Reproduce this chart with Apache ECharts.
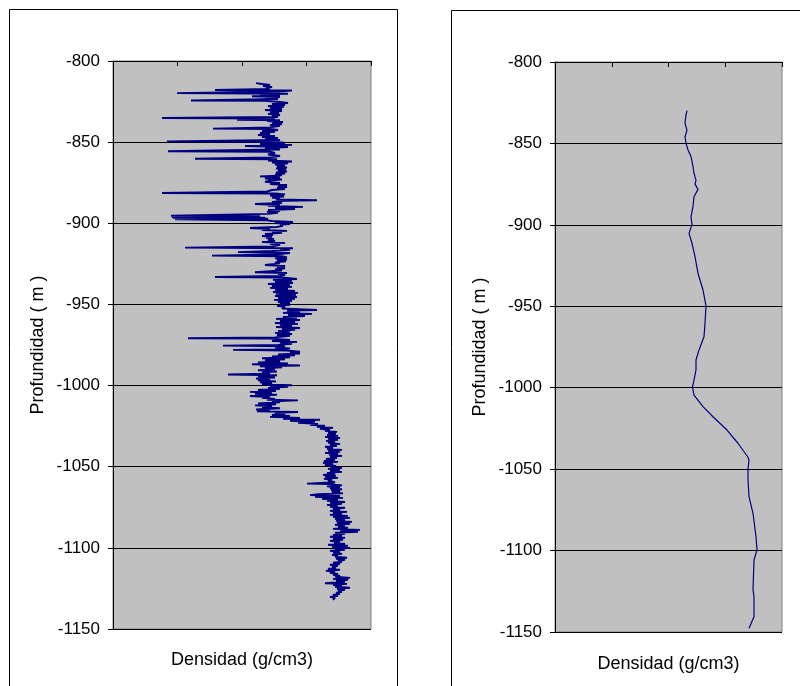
<!DOCTYPE html>
<html><head><meta charset="utf-8">
<script src="https://cdn.jsdelivr.net/npm/echarts@6/dist/echarts.min.js"></script>
<style>html,body{margin:0;padding:0;background:#fff}#c{width:800px;height:686px}</style>
</head><body><div id="c"></div>
<script>
// Depth axis (m)
const depthMin = -1150, depthMax = -800, depthStep = 50;
const depthTickLabels = ['-800','-850','-900','-950','-1000','-1050','-1100','-1150'];
const xTitle = 'Densidad (g/cm3)';
const yTitle = 'Profundidad ( m )';

// Left log: [density, depth]
const leftLogUpper = [
[2.56,-813.6],[2.62,-814.2],[2.70,-814.8],[2.63,-815.4],[2.72,-816.0],[2.66,-816.6],[2.70,-817.2],[2.15,-817.9],[2.92,-818.2],[2.78,-818.8],[1.77,-819.8],[2.88,-820.2],[2.60,-820.6],[2.80,-821.3],[2.52,-821.7],[2.80,-822.2],[2.65,-822.8],[2.78,-823.4],[1.91,-824.3],[2.65,-824.6],
[2.80,-825.3],[2.88,-825.9],[2.72,-826.5],[2.85,-827.1],[2.68,-827.7],[2.84,-828.3],[2.70,-829.0],[2.82,-829.6],[2.65,-830.2],[2.82,-830.8],[2.70,-831.4],[2.79,-832.0],[2.68,-832.6],[2.80,-833.3],[2.72,-833.9],[2.78,-834.5],[1.62,-835.1],[2.75,-835.4],[2.37,-836.2],[2.80,-836.5],[2.67,-837.0],[2.83,-837.6],[2.72,-838.2],[2.82,-838.8],[2.70,-839.4],[2.80,-840.0],[2.70,-840.9],[2.13,-841.7],[2.72,-842.0],[2.78,-842.5],[2.62,-843.1],[2.75,-843.7],[2.60,-844.4],[2.70,-845.0],[2.58,-845.6],[2.75,-846.2],[2.62,-846.8],[2.78,-847.4],[2.65,-848.0],[2.80,-848.7],
[1.67,-849.5],[2.75,-849.8],[2.85,-850.5],[2.60,-851.1],[2.92,-851.7],[2.45,-852.4],[2.88,-853.0],[2.65,-853.6],[2.80,-854.5],[1.68,-855.6],[2.70,-855.9],[2.75,-856.7],[2.68,-857.6],[2.80,-858.5],[2.70,-859.4],[1.95,-860.2],[2.77,-860.5],[2.68,-861.3],[2.92,-861.9],[2.72,-862.5],[2.88,-863.1],[2.75,-863.8],[2.85,-864.4],[2.77,-865.0],[2.87,-865.6],[2.76,-866.2],[2.86,-866.8],[2.78,-867.5],[2.87,-868.1],[2.76,-868.7],[2.85,-869.3],[2.75,-869.9],[2.82,-870.5],[2.60,-871.1],[2.80,-871.8],[2.65,-872.4],[2.82,-873.0],[2.70,-873.6],[2.65,-874.5],[2.80,-875.2],[2.70,-875.8],[2.87,-876.4],[2.78,-877.0],[2.87,-877.6],[2.77,-878.2],[2.85,-878.9],[2.72,-879.5],[2.67,-880.4],[1.62,-881.3],[2.75,-881.6],[2.85,-882.2],[2.70,-882.9],[2.84,-883.5],[2.72,-884.1],[2.80,-884.7],[2.76,-885.3],[3.17,-885.8],[2.85,-886.2],[2.72,-886.9],[2.82,-887.5],[2.55,-888.1],[2.80,-888.7],[2.68,-889.3],[3.03,-889.9],[2.75,-890.6],[2.95,-891.2],[2.68,-891.8],[2.80,-892.4],[2.67,-893.0],[2.78,-893.6],[2.68,-894.2],[2.70,-895.0],[1.71,-895.4],[2.60,-895.7],[1.72,-896.1],[2.65,-896.5],[1.73,-896.8],[2.68,-897.2],[1.75,-897.6],[2.67,-898.1],[2.72,-898.6]
];
const leftLogMiddle = [
[2.93,-899.2],[2.75,-899.8],[2.90,-900.4],[2.80,-901.0],[2.83,-901.6],[2.77,-902.3],[2.50,-902.9],[2.70,-903.5],[2.62,-904.1],[2.87,-904.7],[2.72,-905.3],[2.82,-905.9],[2.65,-906.6],[2.73,-907.2],[2.62,-907.8],[2.72,-908.4],[2.66,-909.0],[2.74,-909.6],[2.68,-910.3],[2.75,-910.9],[2.62,-911.5],[2.85,-912.1],[2.70,-912.7],[2.80,-913.3],[2.72,-914.3],[1.85,-915.0],[2.93,-915.4],[2.80,-915.9],[2.90,-916.4],[2.72,-917.0],[2.38,-917.8],[2.90,-918.3],[2.75,-919.2],[2.12,-919.9],[2.82,-920.3],[2.87,-921.0],[2.75,-921.6],[2.87,-922.3],[2.77,-922.9],[2.86,-923.5],[2.75,-924.1],[2.80,-924.7],[2.65,-925.7],[2.85,-926.3],[2.77,-926.9],[2.85,-927.7],[2.75,-928.5],[2.82,-929.1],[2.55,-930.2],[2.87,-930.6],[2.78,-931.2],[2.85,-931.8],[2.80,-932.4],[2.15,-933.1],[2.82,-933.4],[2.97,-934.3],[2.73,-934.9],[2.92,-935.5],[2.75,-936.1],[2.93,-936.8],[2.68,-937.4],[2.90,-938.0],[2.72,-938.6],[2.92,-939.2],[2.70,-939.8],[2.88,-940.4],[2.75,-941.1],[2.95,-941.7],[2.73,-942.3],[2.98,-942.9],[2.76,-943.5],[2.96,-944.1],[2.75,-944.8],[2.97,-945.4],[2.78,-946.0],[2.95,-946.6],[2.74,-947.2],[2.92,-947.8],[2.78,-948.5],[2.90,-949.1],[2.80,-949.7],[2.90,-950.3],[2.77,-950.9],[2.85,-951.5],[2.82,-952.5],[3.17,-953.4],[2.87,-953.8],[3.00,-954.6],[2.83,-955.2],[3.12,-955.8],[2.88,-956.5],[3.05,-957.1],[2.83,-957.7],[2.97,-958.3],[2.76,-958.9],[3.00,-959.6],[2.80,-960.2],[2.95,-960.8],[2.75,-961.4],[2.98,-962.0],[2.80,-962.6],[2.92,-963.2],[2.76,-963.9],[3.00,-964.5],[2.82,-965.1],[2.95,-965.7],[2.78,-966.3],[2.90,-966.9],[2.75,-967.5],[2.92,-968.2],[2.77,-968.8],[2.90,-969.4],[2.75,-970.3],[1.88,-970.8],[2.70,-971.1],[2.90,-971.9],[2.72,-972.5],[2.97,-973.1],[2.80,-973.7],[2.92,-974.3],[2.78,-974.9],[2.23,-975.4],[2.85,-975.8],[2.75,-976.5],[2.90,-977.1],[2.80,-977.8],[2.33,-978.0],[2.87,-978.4],[3.00,-979.1],
[2.90,-979.6],[3.00,-980.2],[2.78,-980.8],[2.95,-981.4],[2.72,-982.0],[2.90,-982.6],[2.62,-983.2],[2.85,-983.8],[2.65,-984.5],[2.80,-985.1],[2.58,-985.7],[2.88,-986.3],[2.52,-986.9],[3.00,-987.6],[2.60,-988.2],[2.82,-988.8],[2.65,-989.4],[2.75,-990.0],[2.58,-990.6],[2.77,-991.3],[2.62,-991.9],[2.70,-992.7],[2.28,-993.2],[2.77,-993.6],[2.58,-994.3],[2.75,-995.0],[2.56,-995.6],[2.70,-996.2],[2.58,-996.8],[2.76,-997.4],[2.60,-998.0],[2.72,-998.7],[2.62,-999.3],[2.92,-999.8],[2.70,-1000.2],[2.88,-1000.8],[2.68,-1001.4],[2.80,-1002.0],[2.58,-1002.7],[2.76,-1003.3],[2.50,-1003.9],[2.72,-1004.5],[2.55,-1005.1],[2.77,-1005.7],[2.50,-1006.4],[2.70,-1007.0],[2.62,-1007.6],[2.75,-1008.2],[2.67,-1008.7],[2.98,-1009.1],[2.72,-1009.7],[2.80,-1010.3],[2.58,-1011.0],[2.76,-1011.6],[2.55,-1012.2],[2.72,-1012.8],[2.62,-1013.4],[2.80,-1014.0],[2.56,-1014.7],[2.70,-1015.3],[2.57,-1015.9],[2.98,-1016.3],[2.75,-1016.8],[2.85,-1017.4],[2.72,-1018.1],[2.90,-1018.7],[2.70,-1019.3],[3.00,-1019.9],[2.83,-1020.5],[3.20,-1021.1],[2.90,-1021.7],[3.15,-1022.3],[2.98,-1023.0],[3.18,-1023.6],[3.10,-1024.2],[3.25,-1024.8],[3.17,-1025.4],[3.33,-1026.0],[3.20,-1026.7],[3.30,-1027.3],[3.25,-1027.9],[3.37,-1028.5],[3.28,-1029.1],[3.36,-1029.7],[3.27,-1030.4],[3.38,-1031.0],[3.25,-1031.6],[3.40,-1032.2],[3.28,-1032.8],[3.38,-1033.4],[3.26,-1034.1],[3.35,-1034.7],[3.28,-1035.3],[3.40,-1035.9],[3.30,-1036.5],[3.37,-1037.1],[3.25,-1037.7],[3.33,-1038.4],[3.27,-1039.0],[3.42,-1039.6],[3.28,-1040.2],[3.40,-1040.8],[3.25,-1041.5],[3.38,-1042.1],[3.29,-1042.7],[3.42,-1043.3],[3.30,-1043.9],[3.37,-1044.5],[3.26,-1045.2],[3.35,-1045.8],[3.24,-1046.4],[3.38,-1047.0],[3.23,-1047.6],[3.33,-1048.2],[3.25,-1048.9],[3.36,-1049.5],[3.30,-1050.1],[3.42,-1050.7],[3.28,-1051.3],[3.40,-1051.9],[3.30,-1052.6],[3.42,-1053.2],[3.27,-1053.8],[3.35,-1054.4],[3.23,-1055.0],[3.36,-1055.6],[3.25,-1056.2],[3.38,-1056.9],[3.24,-1057.5],[3.32,-1058.1],[3.28,-1058.7],[3.35,-1059.6],[3.07,-1060.4],[3.30,-1060.7],[3.42,-1061.5],[3.27,-1062.1],[3.40,-1062.7],[3.30,-1063.3],[3.42,-1063.9]
];
const leftLogLower = [
[3.31,-1064.6],[3.40,-1065.2],[3.32,-1065.8],[3.43,-1066.4],[3.18,-1067.0],[3.10,-1067.5],[3.40,-1068.0],[3.15,-1068.6],[3.43,-1069.2],[3.22,-1069.8],[3.38,-1070.4],[3.27,-1071.0],[3.45,-1071.7],[3.30,-1072.3],[3.42,-1072.9],[3.27,-1073.5],[3.38,-1074.1],[3.30,-1074.7],[3.45,-1075.3],[3.33,-1076.0],[3.40,-1076.6],[3.30,-1077.2],[3.47,-1077.8],[3.33,-1078.4],[3.42,-1079.0],[3.30,-1079.7],[3.48,-1080.3],[3.33,-1080.9],[3.50,-1081.5],[3.35,-1082.1],[3.45,-1082.7],[3.36,-1083.3],[3.52,-1084.0],[3.37,-1084.6],[3.50,-1085.2],[3.35,-1085.8],[3.45,-1086.4],[3.38,-1087.0],[3.48,-1087.6],[3.33,-1088.3],[3.60,-1088.9],[3.40,-1089.5],[3.58,-1090.1],[3.35,-1090.7],[3.45,-1091.3],[3.33,-1092.0],[3.42,-1092.6],[3.30,-1093.2],[3.45,-1093.8],[3.33,-1094.4],[3.43,-1095.0],[3.30,-1095.7],[3.40,-1096.3],[3.34,-1096.9],[3.45,-1097.5],[3.28,-1098.1],[3.48,-1098.7],[3.32,-1099.3],[3.50,-1100.0],[3.35,-1100.6],[3.45,-1101.2],[3.30,-1101.8],[3.40,-1102.4],[3.33,-1103.0],[3.42,-1103.7],[3.32,-1104.3],[3.38,-1104.9],[3.35,-1105.5],[3.47,-1106.1],[3.36,-1106.7],[3.45,-1107.4],[3.38,-1108.0],[3.42,-1108.6],[3.33,-1109.2],[3.40,-1109.8],[3.30,-1110.4],[3.38,-1111.1],[3.32,-1111.7],[3.36,-1112.3],[3.28,-1112.9],[3.40,-1113.5],[3.26,-1114.1],[3.35,-1114.8],[3.30,-1115.4],[3.38,-1116.0],[3.33,-1116.6],[3.40,-1117.2],[3.35,-1117.8],[3.50,-1118.5],[3.33,-1119.1],[3.48,-1119.7],[3.36,-1120.3],[3.45,-1120.9],[3.25,-1121.8],[3.47,-1122.2],[3.33,-1122.8],[3.42,-1123.4],[3.35,-1124.0],[3.50,-1124.6],[3.37,-1125.2],[3.45,-1125.9],[3.38,-1126.5],[3.42,-1127.1],[3.36,-1127.7],[3.40,-1128.3],[3.33,-1128.9],[3.38,-1129.6],[3.30,-1130.2],[3.35,-1130.8],[3.33,-1132.1]
];
// Right (smoothed) log: [density, depth]
const rightLog = [
[2.45,-829.9],[2.44,-832.5],[2.43,-837.6],[2.45,-841.8],[2.43,-845.9],[2.44,-849.9],[2.46,-854.0],[2.49,-858.1],[2.50,-861.0],[2.51,-864.3],[2.52,-868.3],[2.53,-870.5],[2.54,-872.5],[2.53,-875.0],[2.56,-878.2],[2.52,-882.7],[2.51,-888.8],[2.49,-895.0],[2.50,-899.7],[2.47,-905.2],[2.50,-911.3],[2.53,-919.5],[2.56,-929.7],[2.61,-940.0],[2.64,-949.8],[2.63,-960.4],[2.62,-968.7],[2.57,-976.8],[2.54,-983.0],[2.54,-989.1],[2.52,-995.3],[2.505,-999.6],[2.52,-1004.5],[2.61,-1011.6],[2.71,-1017.8],[2.85,-1026.0],[2.96,-1034.1],[3.06,-1042.7],[3.07,-1044.4],[3.06,-1050.1],[3.06,-1056.7],[3.07,-1066.9],[3.11,-1077.1],[3.14,-1091.5],[3.15,-1099.6],[3.12,-1105.8],[3.11,-1124.2],[3.12,-1128.3],[3.12,-1140.6],[3.07,-1147.7]
];

const leftLog = leftLogUpper.concat(leftLogMiddle, leftLogLower);
const leftRange = [1.13, 3.71];
const rightRange = [1.13, 3.40];

const FONT = 'Arial, "Liberation Sans", sans-serif';
const chart = echarts.init(document.getElementById('c'), null, {renderer: 'canvas'});

function xAxesFor(g, range, gap) {
  return [
    {gridIndex: g, type: 'value', position: 'top', min: range[0], max: range[1],
     axisLine: {show: true, lineStyle: {color: '#000', width: 1}},
     axisTick: {show: false}, axisLabel: {show: false}, splitLine: {show: false}},
    {gridIndex: g, type: 'value', position: 'top', min: 0, max: 4, interval: 1,
     axisLine: {show: true, lineStyle: {color: '#000', width: 1}},
     axisTick: {show: true, inside: true, length: 5, lineStyle: {color: '#000', width: 1}},
     axisLabel: {show: false}, splitLine: {show: false}},
    {gridIndex: g, type: 'value', position: 'bottom', min: range[0], max: range[1],
     name: xTitle, nameLocation: 'middle', nameGap: gap,
     nameTextStyle: {fontFamily: FONT, fontSize: 18, color: '#000'},
     axisLine: {show: false}, axisTick: {show: false}, axisLabel: {show: false}, splitLine: {show: false}}
  ];
}
function yAxisFor(g) {
  return {gridIndex: g, type: 'value', min: depthMin, max: depthMax, interval: depthStep,
    axisLine: {show: true, lineStyle: {color: '#000', width: 1}},
    axisTick: {show: true, inside: false, length: 5, lineStyle: {color: '#000'}},
    axisLabel: {fontFamily: FONT, fontSize: 17, color: '#000', margin: 13,
      formatter: v => depthTickLabels.find(t => Number(t) === v) || String(v)},
    splitLine: {show: true, lineStyle: {color: '#000', width: 1}},
    name: yTitle, nameLocation: 'middle', nameGap: 66, nameRotate: 90,
    nameTextStyle: {fontFamily: FONT, fontSize: 18, color: '#000'}};
}

chart.setOption({
  animation: false,
  backgroundColor: '#fff',
  graphic: [
    {type: 'rect', shape: {x: 9.5, y: 9.5, width: 388, height: 700}, style: {fill: 'none', stroke: '#000', lineWidth: 1}, silent: true},
    {type: 'rect', shape: {x: 451.5, y: 10.5, width: 400, height: 700}, style: {fill: 'none', stroke: '#000', lineWidth: 1}, silent: true}
  ],
  grid: [
    {left: 113, top: 61, width: 258, height: 568, show: true, backgroundColor: '#c0c0c0', borderColor: '#808080', borderWidth: 1},
    {left: 555, top: 62, width: 227, height: 570, show: true, backgroundColor: '#c0c0c0', borderColor: '#808080', borderWidth: 1}
  ],
  xAxis: xAxesFor(0, leftRange, 22).concat(xAxesFor(1, rightRange, 23)),
  yAxis: [yAxisFor(0), yAxisFor(1)],
  series: [
    {type: 'line', xAxisIndex: 0, yAxisIndex: 0, data: leftLog, showSymbol: false, symbol: 'none',
     lineStyle: {color: '#000080', width: 1.9}, z: 3},
    {type: 'line', xAxisIndex: 3, yAxisIndex: 1, data: rightLog, showSymbol: false, symbol: 'none',
     lineStyle: {color: '#000080', width: 1.2}, z: 3}
  ]
});
</script></body></html>
